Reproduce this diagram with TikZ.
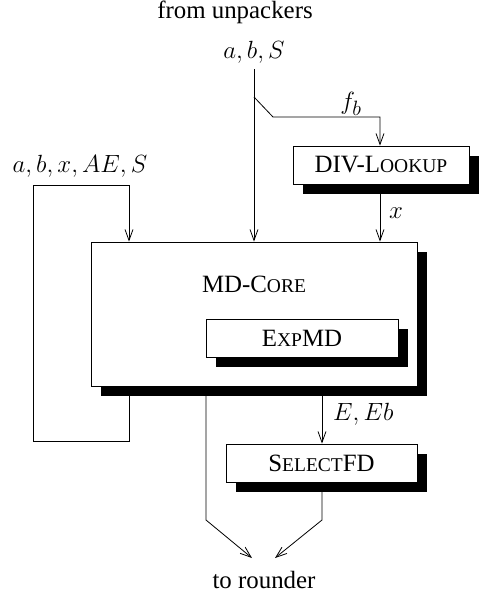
\documentclass[tikz,border=0pt]{standalone}
\usepackage{fontspec}
\setmainfont{Liberation Serif}
\usetikzlibrary{arrows.meta,shadows}
\newcommand\smc[1]{{\fontsize{19.5}{23}\selectfont #1}}
\begin{document}
\begin{tikzpicture}[x=1pt,y=-1pt,
  every node/.style={font=\fontsize{24.88}{30}\selectfont},
  box/.style={draw,fill=white,line width=0.8pt,inner sep=0pt,
    drop shadow={shadow xshift=10pt,shadow yshift=-10pt,fill=black,opacity=1}},
  lab/.style={inner sep=0pt},
  conn/.style={line width=0.8pt},
  arr/.style={conn,-{Straight Barb[length=11pt,width=8pt,line width=0.8pt]}}]
\useasboundingbox (0,0) rectangle (483,597);
% boxes
\node[box,minimum width=326pt,minimum height=144pt] (md) at (254,314) {};
\node[lab] (mdtext) at (254,284) {MD-C\smc{ORE}};
\node[box,minimum width=192pt,minimum height=38pt] (exp) at (302,338) {E\smc{XP}MD};
\node[box,minimum width=176pt,minimum height=38pt] (div) at (381,165) {DIV-L\smc{OOKUP}};
\node[box,minimum width=191pt,minimum height=38pt] (sel) at (321.5,463) {S\smc{ELECT}FD};
% texts
\node[lab] (from) at (235,12) {from unpackers};
\node[lab] (abs) at (254,52) {$a,b,S$};
\node[lab] (fb) at (351,104) {$f_b$};
\node[lab,anchor=west] (xl) at (389,213) {$x$};
\node[lab] (fbl) at (80,166) {$a,b,x,AE,S$};
\node[lab,anchor=west] (eeb) at (333,414) {$E,Eb$};
\node[lab] (to) at (264,580) {to rounder};
% coordinates
\coordinate (abstop) at (254,69);
\coordinate (split) at (254,97);
\coordinate (bend) at (273,117);
\coordinate (fbc) at (380,117);
\coordinate (fl1) at (129,441);
\coordinate (fl2) at (33,441);
\coordinate (fl3) at (33,185);
\coordinate (fl4) at (129,185);
\coordinate (o1) at (206,520);
\coordinate (o2) at (322,520);
\coordinate (t1) at (252,558);
\coordinate (t2) at (275,558);
% connectors
\draw[arr] (abstop) -- (abstop |- md.north);
\draw[arr] (split) -- (bend) -- (fbc) -- (fbc |- div.north);
\draw[arr] (fbc |- div.south) -- (fbc |- md.north);
\draw[arr] (fl1 |- md.south) -- (fl1) -- (fl2) -- (fl3) -- (fl4) -- (fl4 |- md.north);
\draw[arr] (o2 |- md.south) -- (o2 |- sel.north);
\draw[arr] (o1 |- md.south) -- (o1) -- (t1);
\draw[arr] (o2 |- sel.south) -- (o2) -- (t2);
\end{tikzpicture}
\end{document}
